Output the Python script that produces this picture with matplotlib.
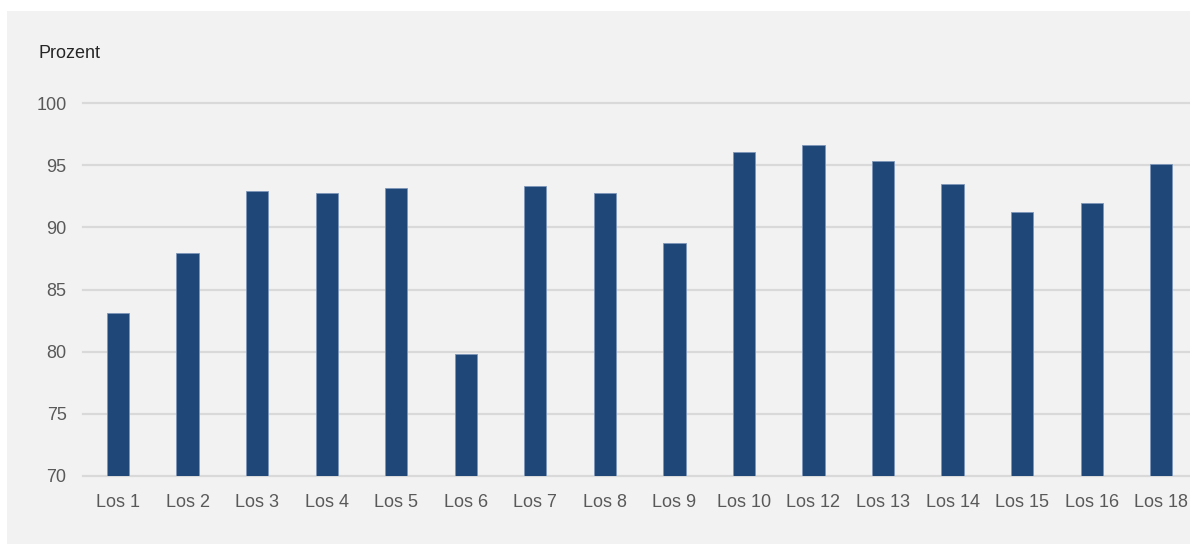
import matplotlib
matplotlib.use("Agg")
import matplotlib.pyplot as plt
from matplotlib.patches import Rectangle

# ── data ────────────────────────────────────────────────────────────
lose = ["Los 1", "Los 2", "Los 3", "Los 4", "Los 5", "Los 6", "Los 7", "Los 8",
        "Los 9", "Los 10", "Los 12", "Los 13", "Los 14", "Los 15", "Los 16", "Los 18"]
prozent = [83.1, 87.9, 92.9, 92.8, 93.15, 79.8, 93.3, 92.8,
           88.7, 96.05, 96.6, 95.3, 93.5, 91.2, 91.95, 95.1]
y_ticks = [70, 75, 80, 85, 90, 95, 100]

# ── style ───────────────────────────────────────────────────────────
BAR = "#1F4778"
BAR_EDGE = "#7D97B9"
GRID = "#D9D9D9"
PANEL = "#F2F2F2"
TICK_C = "#595959"
FONT = "Liberation Sans"

W, H = 1190, 545
fig = plt.figure(figsize=(W / 100, H / 100), dpi=100)
fig.patch.set_facecolor("white")

# grey panel behind the chart
fig.patches.append(Rectangle((7 / W, 1 - 544 / H), 1 - 7 / W, (544 - 11) / H,
                             transform=fig.transFigure, fc=PANEL, ec="none",
                             zorder=-5))

left, right = 83.25, 1196.0
bottom, top = 476.0, 103.0
ax = fig.add_axes([left / W, 1 - bottom / H, (right - left) / W, (bottom - top) / H])
ax.patch.set_alpha(0)

x = range(len(lose))
ax.bar(x, [v - 70 for v in prozent], bottom=70, width=0.32, color=BAR,
       edgecolor=BAR_EDGE, linewidth=0.6, zorder=3)

for v in y_ticks:
    ax.axhline(v, color=GRID, lw=1.6, clip_on=False, zorder=1)

ax.set_xlim(-0.5, len(lose) - 0.5)
ax.set_ylim(70, 100)
ax.set_yticks(y_ticks)
ax.set_yticklabels([str(v) for v in y_ticks])
ax.set_xticks(list(x))
ax.set_xticklabels(lose)

for s in ax.spines.values():
    s.set_visible(False)
ax.tick_params(axis="both", length=0, colors=TICK_C, labelsize=13)
ax.tick_params(axis="y", pad=12)
ax.tick_params(axis="x", pad=13)
for lbl in ax.get_xticklabels() + ax.get_yticklabels():
    lbl.set_fontfamily(FONT)

fig.text(39 / W, 1 - 53 / H, "Prozent", ha="left", va="center",
         fontsize=13, color="#262626", fontfamily=FONT)

fig.savefig("out.png", dpi=100, facecolor="white")
